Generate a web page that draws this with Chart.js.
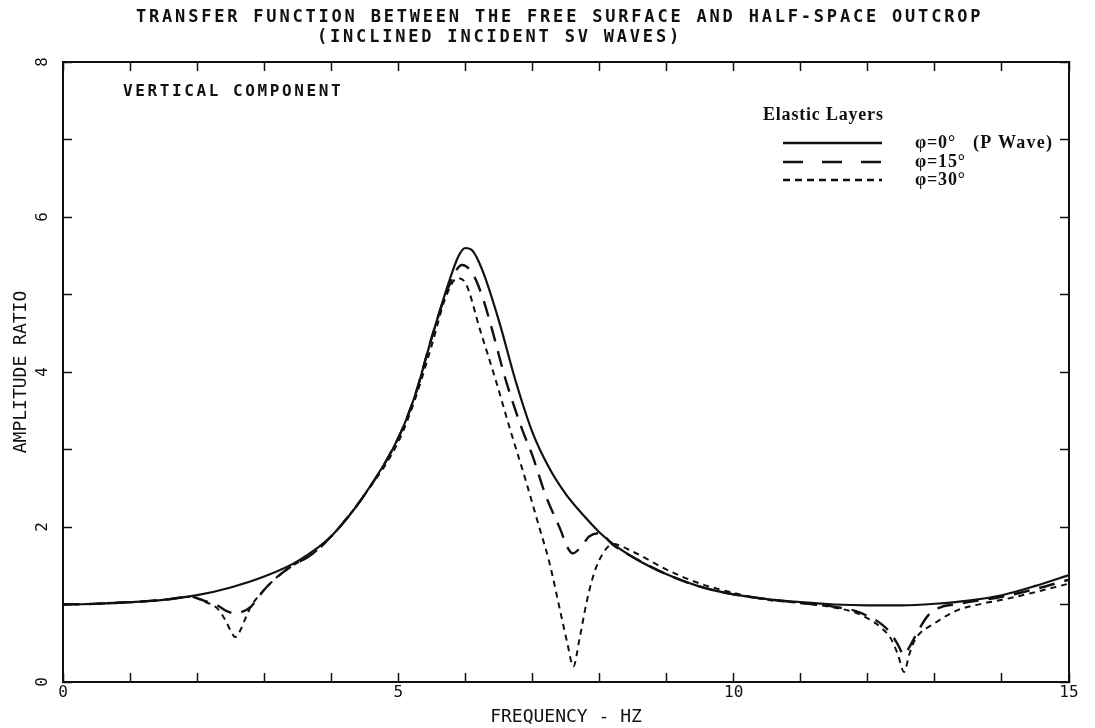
<!DOCTYPE html>
<html>
<head>
<meta charset="utf-8">
<title>Transfer function - vertical component</title>
<script src="https://cdn.jsdelivr.net/npm/chart.js@4.4.0/dist/chart.umd.min.js"></script>
<style>
  html, body { margin: 0; padding: 0; background: #fff; }
  #wrap { width: 1095px; height: 728px; }
</style>
</head>
<body>
<div id="wrap"><canvas id="tf" width="1095" height="728"></canvas></div>
<script>
// phi = 0 deg (P wave), elastic layers
const freqP0 = [0, 0.5, 1, 1.5, 2, 2.5, 3, 3.5, 4, 4.5, 5, 5.25, 5.5, 5.75, 5.9, 6.0, 6.1, 6.25, 6.5, 6.75,
  7, 7.25, 7.5, 7.75, 8, 8.25, 8.5, 8.75, 9, 9.5, 10, 10.5, 11, 11.5, 12, 12.5, 13, 13.5, 14, 14.5, 15];
const ampP0 = [1.00, 1.01, 1.03, 1.06, 1.12, 1.22, 1.36, 1.56, 1.88, 2.42, 3.15, 3.70, 4.45, 5.15, 5.50, 5.60, 5.57, 5.32, 4.66, 3.88,
  3.22, 2.76, 2.42, 2.16, 1.93, 1.75, 1.61, 1.49, 1.39, 1.23, 1.13, 1.07, 1.03, 1.00, 0.99, 0.99, 1.01, 1.05, 1.12, 1.24, 1.38];

// phi = 15 deg
const freqP15 = [0, 0.5, 1, 1.5, 1.9, 2.1, 2.3, 2.45, 2.55, 2.65, 2.8, 3.0, 3.2, 3.4, 3.7, 4.0, 4.5, 5, 5.25, 5.5,
  5.75, 5.95, 6.1, 6.25, 6.4, 6.6, 6.85, 7.0, 7.2, 7.42, 7.52, 7.6, 7.7, 7.85, 8.0, 8.2, 8.5, 9, 9.5, 10,
  10.5, 11, 11.5, 11.8, 12.0, 12.2, 12.35, 12.45, 12.54, 12.62, 12.7, 12.9, 13.1, 13.3, 13.5, 14, 14.5, 15];
const ampP15 = [1.00, 1.01, 1.03, 1.06, 1.10, 1.05, 0.99, 0.91, 0.89, 0.90, 0.97, 1.19, 1.36, 1.49, 1.64, 1.88, 2.42, 3.15, 3.70, 4.45,
  5.10, 5.38, 5.28, 4.98, 4.54, 3.90, 3.25, 2.92, 2.40, 1.96, 1.74, 1.66, 1.72, 1.88, 1.92, 1.77, 1.61, 1.39, 1.23, 1.13,
  1.07, 1.02, 0.97, 0.92, 0.85, 0.75, 0.62, 0.48, 0.35, 0.45, 0.58, 0.86, 0.97, 1.00, 1.03, 1.10, 1.20, 1.32];

// phi = 30 deg
const freqP30 = [0, 0.5, 1, 1.5, 1.9, 2.1, 2.3, 2.42, 2.5, 2.57, 2.64, 2.72, 2.8, 3.0, 3.2, 3.4, 3.7, 4.0, 4.5, 5,
  5.25, 5.5, 5.7, 5.88, 6.0, 6.22, 6.45, 6.67, 6.9, 7.1, 7.25, 7.42, 7.52, 7.61, 7.7, 7.8, 7.9, 8.0, 8.2, 8.5,
  9, 9.5, 10, 10.5, 11, 11.5, 11.8, 12.0, 12.2, 12.35, 12.45, 12.54, 12.62, 12.7, 13.0, 13.35, 13.7, 14.0, 14.5, 15];
const ampP30 = [1.00, 1.01, 1.03, 1.06, 1.10, 1.04, 0.95, 0.80, 0.66, 0.58, 0.66, 0.82, 0.97, 1.19, 1.36, 1.49, 1.64, 1.88, 2.42, 3.10,
  3.65, 4.35, 4.95, 5.21, 5.15, 4.54, 3.90, 3.25, 2.60, 2.00, 1.55, 0.89, 0.50, 0.20, 0.55, 1.00, 1.35, 1.58, 1.78, 1.68,
  1.45, 1.27, 1.15, 1.06, 1.02, 0.96, 0.90, 0.82, 0.70, 0.55, 0.35, 0.13, 0.36, 0.54, 0.76, 0.93, 1.01, 1.06, 1.16, 1.27];

const xTickLabels = [0, 5, 10, 15];
const yTickLabels = [0, 2, 4, 6, 8];
const titleLines = ['TRANSFER FUNCTION BETWEEN THE FREE SURFACE AND HALF-SPACE OUTCROP', '(INCLINED INCIDENT SV WAVES)'];
const panelLabel = 'VERTICAL COMPONENT';
const legendTitle = 'Elastic Layers';
const seriesNames = ['\u03c6=0\u00b0', '\u03c6=15\u00b0', '\u03c6=30\u00b0'];
const seriesNote = '(P Wave)';

const INK = '#111';
const MONO = '"DejaVu Sans Mono", "Liberation Mono", monospace';
const SERIF = '"Liberation Serif", "DejaVu Serif", serif';

const toPoints = (xs, ys) => xs.map((x, i) => ({ x: x, y: ys[i] }));

// draw text with extra spacing between letters (plotter lettering)
function spaced(ctx, text, x, y, font, spacing, align) {
    ctx.font = font;
    ctx.letterSpacing = spacing + 'px';
    ctx.textAlign = align;
    ctx.fillText(text, x, y);
    ctx.letterSpacing = '0px';
}

const lettering = {
    id: 'lettering',
    afterDraw(chart) {
        const ctx = chart.ctx;
        ctx.save();
        ctx.fillStyle = INK;
        ctx.textBaseline = 'middle';
        spaced(ctx, titleLines[0], 136, 18, 'bold 17px ' + MONO, 2.8, 'left');
        spaced(ctx, titleLines[1], 317, 38, 'bold 17px ' + MONO, 2.8, 'left');
        spaced(ctx, panelLabel, 123, 92, 'bold 16px ' + MONO, 2.6, 'left');

        // legend block
        spaced(ctx, legendTitle, 763, 115, 'bold 18px ' + SERIF, 0.8, 'left');
        const rows = [143, 162, 180];
        const dashes = [[], [20, 19], [7, 5]];
        ctx.strokeStyle = INK;
        ctx.lineWidth = 2.5;
        rows.forEach((ry, i) => {
            ctx.setLineDash(dashes[i]);
            ctx.beginPath();
            ctx.moveTo(783, ry);
            ctx.lineTo(882, ry);
            ctx.stroke();
            spaced(ctx, seriesNames[i], 915, ry, 'bold 18px ' + SERIF, 0.8, 'left');
        });
        ctx.setLineDash([]);
        spaced(ctx, seriesNote, 973, rows[0], 'bold 18px ' + SERIF, 1.2, 'left');
        ctx.restore();
    }
};

const tickGrid = {
    drawOnChartArea: false,
    tickLength: -9,
    tickWidth: 1.5,
    tickColor: INK
};
const frameBorder = { display: true, color: INK, width: 2 };

new Chart(document.getElementById('tf'), {
    type: 'line',
    data: {
        datasets: [
            {
                label: seriesNames[0],
                data: toPoints(freqP0, ampP0),
                borderColor: INK,
                borderWidth: 2.2,
                pointRadius: 0,
                cubicInterpolationMode: 'monotone'
            },
            {
                label: seriesNames[1],
                data: toPoints(freqP15, ampP15),
                borderColor: INK,
                borderWidth: 2.4,
                borderDash: [16, 10],
                pointRadius: 0,
                cubicInterpolationMode: 'monotone'
            },
            {
                label: seriesNames[2],
                data: toPoints(freqP30, ampP30),
                borderColor: INK,
                borderWidth: 2,
                borderDash: [6, 5],
                pointRadius: 0,
                cubicInterpolationMode: 'monotone'
            }
        ]
    },
    options: {
        responsive: false,
        animation: false,
        devicePixelRatio: 1,
        layout: { padding: { top: 62, right: 26, left: 0, bottom: 0 } },
        plugins: {
            legend: { display: false },
            tooltip: { enabled: false },
            title: { display: false }
        },
        scales: {
            x: {
                type: 'linear',
                position: 'bottom',
                min: 0,
                max: 15,
                ticks: {
                    stepSize: 1,
                    autoSkip: false,
                    maxRotation: 0,
                    padding: 10,
                    color: INK,
                    font: { family: MONO, size: 16 },
                    callback: v => xTickLabels.includes(v) ? v : ''
                },
                grid: tickGrid,
                border: frameBorder,
                title: {
                    display: true,
                    text: 'FREQUENCY - HZ',
                    color: INK,
                    font: { family: MONO, size: 18 },
                    padding: { top: 0, bottom: 0 }
                },
                afterFit(scale) { scale.height = 46; }
            },
            xTop: {
                type: 'linear',
                position: 'top',
                display: true,
                min: 0,
                max: 15,
                ticks: { stepSize: 1, autoSkip: false, maxRotation: 0, callback: () => '' },
                grid: tickGrid,
                border: frameBorder,
                afterFit(scale) { scale.height = 0; }
            },
            y: {
                type: 'linear',
                position: 'left',
                min: 0,
                max: 8,
                ticks: {
                    stepSize: 1,
                    autoSkip: false,
                    minRotation: 90,
                    maxRotation: 90,
                    crossAlign: 'center',
                    padding: 24,
                    color: INK,
                    font: { family: MONO, size: 16 },
                    callback: v => yTickLabels.includes(v) ? v : ''
                },
                grid: tickGrid,
                border: frameBorder,
                title: {
                    display: true,
                    text: 'AMPLITUDE RATIO',
                    color: INK,
                    font: { family: MONO, size: 18 },
                    padding: { top: 11, bottom: 0 }
                },
                afterFit(scale) { scale.width = 63; }
            },
            yRight: {
                type: 'linear',
                position: 'right',
                display: true,
                min: 0,
                max: 8,
                ticks: { stepSize: 1, autoSkip: false, callback: () => '' },
                grid: tickGrid,
                border: frameBorder,
                afterFit(scale) { scale.width = 0; }
            }
        }
    },
    plugins: [lettering]
});
</script>
</body>
</html>
